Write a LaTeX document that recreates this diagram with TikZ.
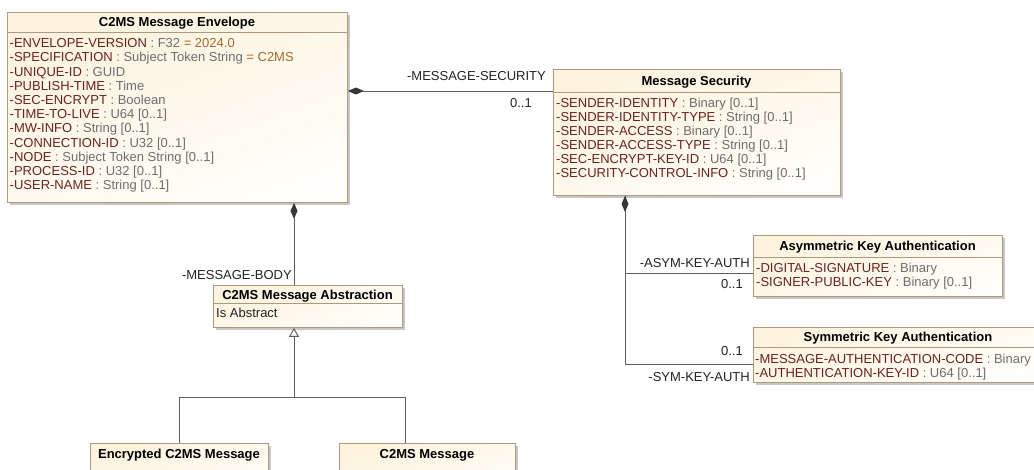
\documentclass[tikz,border=0pt]{standalone}
\usepackage{fontspec}
\setmainfont{Liberation Sans}
\usetikzlibrary{arrows.meta,shadows,calc}

\definecolor{umlborder}{RGB}{176,152,124}
\definecolor{umlfillA}{RGB}{253,243,222}
\definecolor{umlfillB}{RGB}{255,254,250}
\definecolor{umlname}{RGB}{105,35,30}
\definecolor{umltype}{RGB}{110,110,110}
\definecolor{umlvalue}{RGB}{165,105,45}
\definecolor{umlline}{RGB}{95,95,95}
\definecolor{umldiamond}{RGB}{55,55,55}
\definecolor{umllabel}{RGB}{35,35,35}

\newcommand\umlsize{\fontsize{13pt}{14pt}\selectfont}
\newcommand\umlN[1]{\textcolor{umlname}{#1}}
\newcommand\umlT[1]{\textcolor{umltype}{#1}}
\newcommand\umlV[1]{\textcolor{umlvalue}{#1}}

% one named node per attribute line: prefix, x, first baseline, line step, lines
\newcommand\attrlist[5]{%
  \foreach \txt [count=\k] in {#5} {%
    \node[attr] (#1-\k) at (#2,{#3+(\k-1)*#4}) {\txt};}}

\tikzset{
  classbox/.style={draw=umlborder, line width=0.9pt,
    top color=umlfillA, bottom color=umlfillB, shading angle=20,
    drop shadow={shadow xshift=2.5pt, shadow yshift=-2.5pt, fill=black!40, opacity=0.55},
    anchor=north west, inner sep=0pt},
  classtitle/.style={font=\umlsize\bfseries, anchor=base, inner sep=0pt},
  attr/.style={font=\umlsize, anchor=base west, inner sep=0pt},
  sepline/.style={draw=umlborder, line width=0.9pt},
  assoc/.style={draw=umlline, line width=0.95pt},
  compo/.style={assoc, {Diamond[length=16pt,width=7pt,fill=umldiamond,color=umldiamond]}-},
  gen/.style={assoc, -{Triangle[open, length=9pt, width=10pt, fill=white]}},
  role/.style={font=\umlsize, anchor=base east, inner sep=0pt, text=umllabel},
}

\begin{document}
\begin{tikzpicture}[x=1pt, y=-1pt]
\useasboundingbox (0,0) rectangle (1034,469);

% ---------- class boxes ----------
\node[classbox, minimum width=340pt, minimum height=190pt] (env) at (7,12) {};
\node[classbox, minimum width=287pt, minimum height=126pt] (sec) at (553,69) {};
\node[classbox, minimum width=189pt, minimum height=42pt] (abs) at (213,285) {};
\node[classbox, minimum width=249pt, minimum height=61pt] (asym) at (753,235) {};
\node[classbox, minimum width=290pt, minimum height=55pt] (sym) at (753,327) {};
\node[classbox, minimum width=178pt, minimum height=60pt] (enc) at (90,443) {};
\node[classbox, minimum width=176pt, minimum height=60pt] (msg) at (339,443) {};

% ---------- compartments ----------
\draw[sepline] (env.west |- 0,32) -- (env.east |- 0,32);
\draw[sepline] (sec.west |- 0,92) -- (sec.east |- 0,92);
\draw[sepline] (abs.west |- 0,303) -- (abs.east |- 0,303);
\draw[sepline] (asym.west |- 0,257) -- (asym.east |- 0,257);
\draw[sepline] (sym.west |- 0,347) -- (sym.east |- 0,347);

% ---------- titles ----------
\node[classtitle] (envT) at (177,26.7) {C2MS Message Envelope};
\node[classtitle] (secT) at (696.5,85.7) {Message Security};
\node[classtitle] (absT) at (307.5,299.5) {C2MS Message Abstraction};
\node[classtitle] (asymT) at (877.5,250.7) {Asymmetric Key Authentication};
\node[classtitle] (symT) at (898,341.7) {Symmetric Key Authentication};
\node[classtitle] (encT) at (179,458.7) {Encrypted C2MS Message};
\node[classtitle] (msgT) at (427,458.7) {C2MS Message};

% ---------- attributes ----------
\attrlist{envA}{9.5}{47.7}{14.2}{
  {\umlN{-ENVELOPE-VERSION} \umlT{: F32} \umlV{= 2024.0}},
  {\umlN{-SPECIFICATION} \umlT{: Subject Token String} \umlV{= C2MS}},
  {\umlN{-UNIQUE-ID} \umlT{: GUID}},
  {\umlN{-PUBLISH-TIME} \umlT{: Time}},
  {\umlN{-SEC-ENCRYPT} \umlT{: Boolean}},
  {\umlN{-TIME-TO-LIVE} \umlT{: U64 [0..1]}},
  {\umlN{-MW-INFO} \umlT{: String [0..1]}},
  {\umlN{-CONNECTION-ID} \umlT{: U32 [0..1]}},
  {\umlN{-NODE} \umlT{: Subject Token String [0..1]}},
  {\umlN{-PROCESS-ID} \umlT{: U32 [0..1]}},
  {\umlN{-USER-NAME} \umlT{: String [0..1]}}}

\attrlist{secA}{556}{107.7}{14}{
  {\umlN{-SENDER-IDENTITY} \umlT{: Binary [0..1]}},
  {\umlN{-SENDER-IDENTITY-TYPE} \umlT{: String [0..1]}},
  {\umlN{-SENDER-ACCESS} \umlT{: Binary [0..1]}},
  {\umlN{-SENDER-ACCESS-TYPE} \umlT{: String [0..1]}},
  {\umlN{-SEC-ENCRYPT-KEY-ID} \umlT{: U64 [0..1]}},
  {\umlN{-SECURITY-CONTROL-INFO} \umlT{: String [0..1]}}}

\attrlist{absA}{216}{317.7}{14}{{\textcolor{umllabel}{Is Abstract}}}

\attrlist{asymA}{756}{272.7}{14}{
  {\umlN{-DIGITAL-SIGNATURE} \umlT{: Binary}},
  {\umlN{-SIGNER-PUBLIC-KEY} \umlT{: Binary [0..1]}}}

\attrlist{symA}{755}{363.7}{14}{
  {\umlN{-MESSAGE-AUTHENTICATION-CODE} \umlT{: Binary}},
  {\umlN{-AUTHENTICATION-KEY-ID} \umlT{: U64 [0..1]}}}

% ---------- attachment points ----------
\path (sec.north west) ++(0,22) coordinate (secIn);
\path (abs.north west) ++(81,0) coordinate (absIn);
\path (sec.south west) ++(72,0) coordinate (secOut);
\path (asym.north west) ++(0,38) coordinate (asymIn);
\path (sym.north west) ++(0,37) coordinate (symIn);
\path (msg.north west) ++(66,0) coordinate (msgIn);
\path (absIn |- abs.south) ++(0,70) coordinate (genBar);

% ---------- compositions ----------
\draw[compo] (env.east |- secIn) -- (secIn);
\draw[compo] (absIn |- env.south) -- (absIn);
\draw[assoc] (secOut) |- (symIn);
\draw[compo] (secOut) |- (asymIn);

% ---------- generalization ----------
\draw[assoc] (enc.north) |- (genBar);
\draw[assoc] (msgIn) |- (genBar);
\draw[gen] (genBar) -- (absIn |- abs.south);

% ---------- role names and multiplicities ----------
\node[role] (rSec) at (546,80.7) {-MESSAGE-SECURITY};
\node[role] (mSec) at (532,107.7) {0..1};
\node[role] (rBody) at (292,279.7) {-MESSAGE-BODY};
\node[role] (rAsym) at (750,267.7) {-ASYM-KEY-AUTH};
\node[role] (mAsym) at (743,288.7) {0..1};
\node[role] (mSym) at (743,355.7) {0..1};
\node[role] (rSym) at (750,381.7) {-SYM-KEY-AUTH};
\end{tikzpicture}
\end{document}
